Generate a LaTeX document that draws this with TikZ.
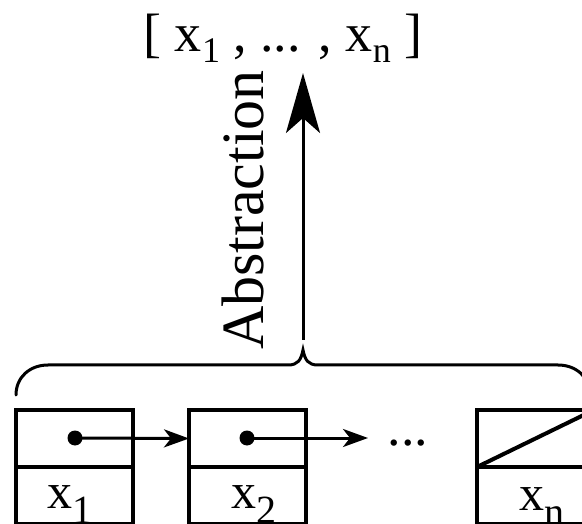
\documentclass[tikz,border=0pt]{standalone}
\usepackage{fontspec}
\setmainfont{Liberation Serif}
\usetikzlibrary{arrows.meta}
\newcommand\mysub[3]{\raisebox{-#3pt}{\fontsize{#2}{#2}\selectfont #1}}
\tikzset{
  cell/.style={draw, line width=4pt, minimum width=117pt, minimum height=57pt, inner sep=0pt, outer sep=0pt},
  ptr/.style={circle, fill, minimum size=15pt, inner sep=0pt, outer sep=0pt},
  link/.style={line width=3pt, -{Stealth[length=25pt,width=18pt,inset=7pt]}},
  bigarrow/.style={line width=3pt, -{Stealth[length=60pt,width=34pt,inset=15pt]}},
  brace/.style={line width=3pt, line cap=round},
  big/.style={font=\fontsize{54}{54}\selectfont, inner sep=0pt},
  lab/.style={font=\fontsize{50}{50}\selectfont, inner sep=0pt, anchor=base}
}
\begin{document}
\begin{tikzpicture}[x=1pt, y=-1pt]
\useasboundingbox (0,0) rectangle (582,524);
% cells
\node[cell] (t1) at (74.5,438.5) {};
\node[cell] (b1) at (74.5,495.5) {};
\node[cell] (t2) at (247.5,438.5) {};
\node[cell] (b2) at (247.5,495.5) {};
\node[cell] (tn) at (535.5,438.5) {};
\node[cell] (bn) at (535.5,495.5) {};
\draw[line width=4pt] (tn.south west) -- (tn.north east);
% pointers
\node[ptr] (d1) at (75,438) {};
\node[ptr] (d2) at (247,438) {};
\draw[link] (d1.center) -- (t2.west);
\coordinate (e2) at (368,438);
\draw[link] (d2.center) -- (e2);
\node[big, anchor=base] (dots) at (408,445) {...};
% labels
\node[lab] (l1) at (70,508) {x\mysub{1}{40}{15}};
\node[lab] (l2) at (254,508) {x\mysub{2}{40}{15}};
\node[lab] (ln) at (542,510) {x\mysub{n}{40}{15}};
% brace
\draw[brace] (16,395) .. controls (16,377) and (30,365) .. (48,365) -- (288,365)
  .. controls (298,365) and (301,360) .. (303,350)
  .. controls (305,360) and (308,365) .. (318,365) -- (558,365)
  .. controls (576,365) and (590,377) .. (590,395);
% abstraction arrow
\coordinate (from) at (303,340);
\coordinate (to) at (303,73);
\draw[bigarrow] (from) -- (to);
\node[big, rotate=90, anchor=base] (abs) at (263,210) {\fontsize{60}{60}\selectfont Abstraction};
% top list
\node[big, anchor=base] (list) at (283,52) {[ x\mysub{1}{36}{11} , ... , x\mysub{n}{36}{11} ]};
\end{tikzpicture}
\end{document}
